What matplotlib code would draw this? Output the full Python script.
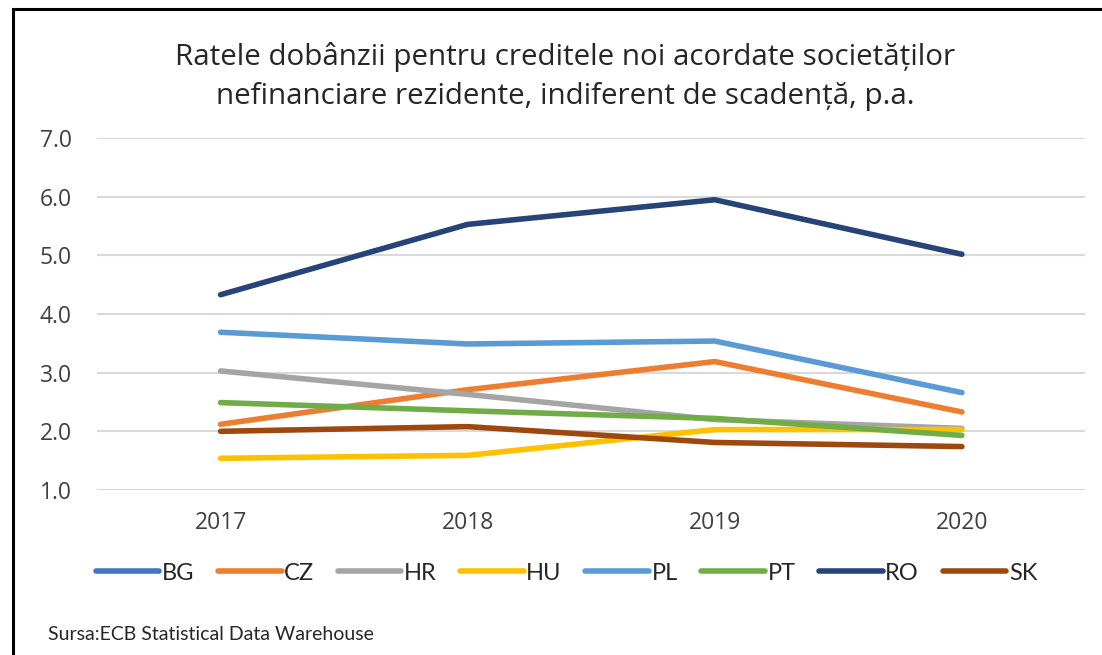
import numpy as np
import matplotlib
matplotlib.use("Agg")
import matplotlib.pyplot as plt
from matplotlib.lines import Line2D

years = ["2017", "2018", "2019", "2020"]
countries = ["BG", "CZ", "HR", "HU", "PL", "PT", "RO", "SK"]
bg = [np.nan, np.nan, np.nan, np.nan]
cz = [2.12, 2.71, 3.19, 2.33]
hr = [3.03, 2.63, 2.20, 2.05]
hu = [1.54, 1.59, 2.03, 2.03]
pl = [3.69, 3.49, 3.54, 2.66]
pt = [2.49, 2.35, 2.22, 1.93]
ro = [4.33, 5.53, 5.95, 5.02]
sk = [2.00, 2.08, 1.81, 1.74]
series = [bg, cz, hr, hu, pl, pt, ro, sk]
colors = ["#4472C4", "#ED7D31", "#A5A5A5", "#FFC000",
          "#5B9BD5", "#70AD47", "#264478", "#9E480E"]

title = ("Ratele dobânzii pentru creditele noi acordate societăților\n"
         "nefinanciare rezidente, indiferent de scadență, p.a.")
source = "Sursa:ECB Statistical Data Warehouse"

plt.rcParams["font.family"] = ["Open Sans", "DejaVu Sans"]

fig = plt.figure(figsize=(11.02, 6.55), dpi=100)
ax = fig.add_axes([0.088, 0.252, 0.897, 0.537])

x = np.arange(len(years))
for name, vals, c in zip(countries, series, colors):
    ax.plot(x, vals, color=c, lw=4.0, solid_capstyle="round",
            solid_joinstyle="round", label=name)

ax.set_xlim(-0.5, len(years) - 0.5)
ax.set_ylim(1, 7)
ax.set_yticks(np.arange(1, 8, 1))
ax.set_yticklabels([f"{v:.1f}" for v in np.arange(1, 8, 1)])
ax.set_xticks(x)
ax.set_xticklabels(years)
ax.yaxis.grid(True, color="#D9D9D9", lw=1.5)
ax.set_axisbelow(True)
for s in ax.spines.values():
    s.set_visible(False)
ax.tick_params(length=0, labelsize=16.5, colors="#404040")
ax.tick_params(axis="y", pad=18)
ax.tick_params(axis="x", pad=15)

fig.text(0.513, 0.883, title, ha="center", va="center", fontsize=21.3,
         color="#262626", linespacing=1.45)

leg = fig.legend(loc="center", bbox_to_anchor=(0.514, 0.125), ncol=8,
                 frameon=False, handlelength=2.7,
                 handletextpad=0.1, columnspacing=1.0,
                 prop={"family": ["Lato", "DejaVu Sans"], "size": 17})
for t in leg.get_texts():
    t.set_color("#262626")

fig.text(0.044, 0.032, source, ha="left", va="center", fontsize=14,
         color="#262626", family=["Lato", "DejaVu Sans"])

# frame of the pasted chart (top and left edges visible)
fig.add_artist(Line2D([0.0115, 0.0115], [0.0, 0.986], transform=fig.transFigure,
                      color="black", lw=2.2))
fig.add_artist(Line2D([0.0115, 1.0], [0.986, 0.986], transform=fig.transFigure,
                      color="black", lw=2.2))

fig.savefig("out.png", dpi=100)
